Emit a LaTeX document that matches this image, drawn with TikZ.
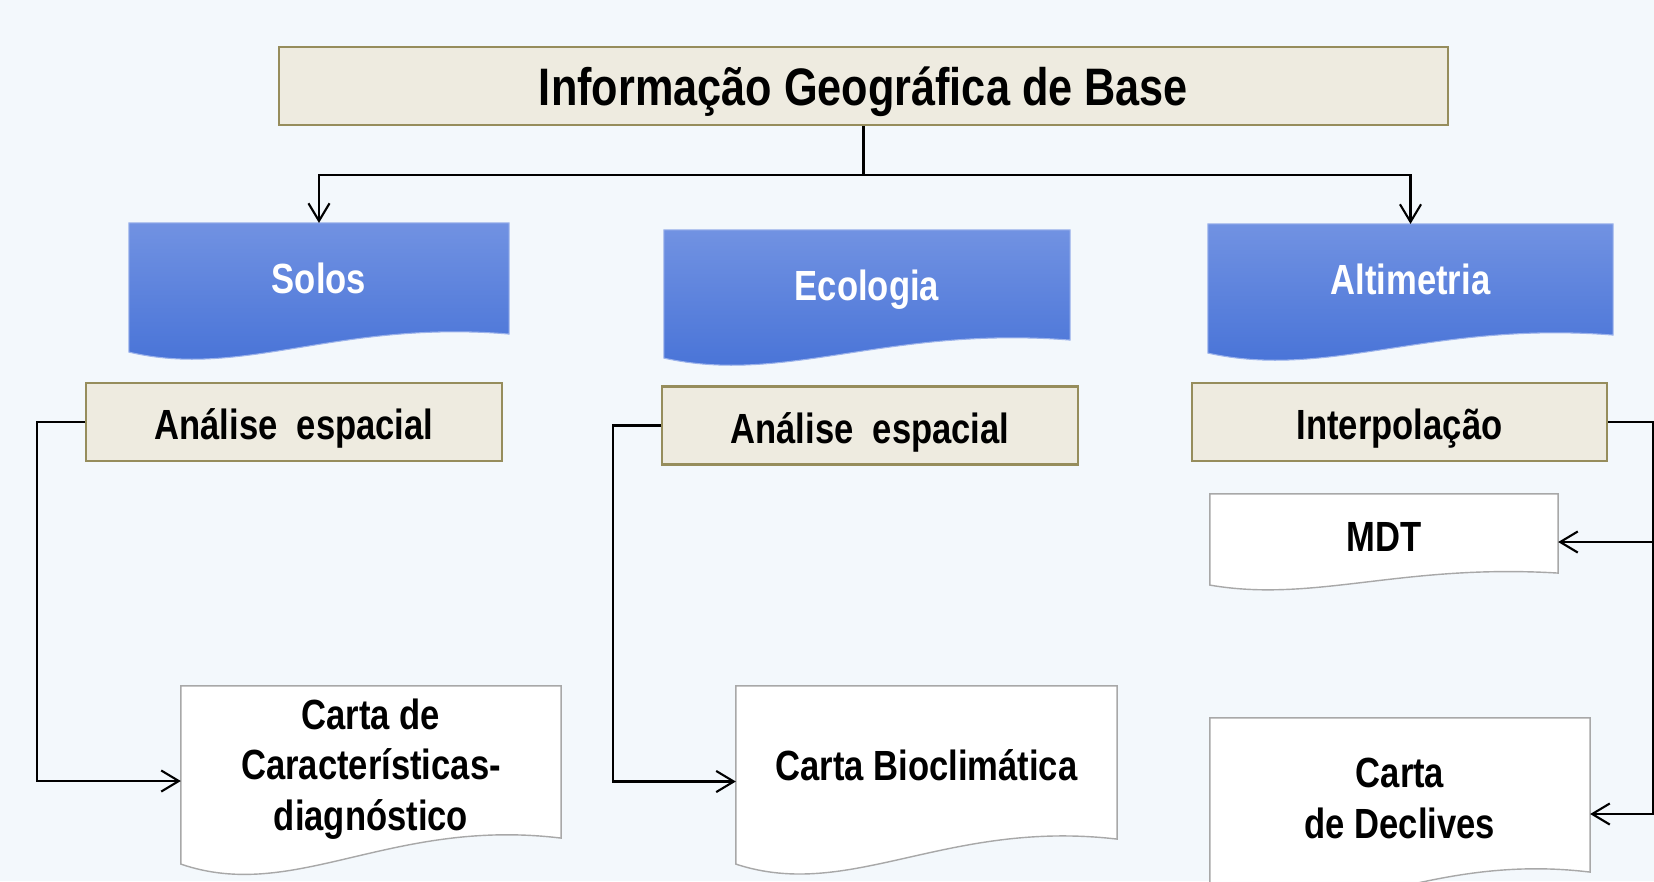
\documentclass[tikz,border=0pt]{standalone}
\usepackage{fontspec}
\setmainfont{Liberation Sans}[FakeStretch=0.82]
\usepackage{tikz}
\usetikzlibrary{arrows.meta,calc,backgrounds}
\definecolor{pagebg}{HTML}{F3F8FC}
\definecolor{beigefill}{HTML}{EEEBE0}
\definecolor{beigeedge}{HTML}{968D5C}
\definecolor{bluetop}{HTML}{7192E2}
\definecolor{bluebot}{HTML}{4470D6}
\definecolor{docedge}{HTML}{A8A8A8}
\tikzset{every picture/.style={line width=0.6pt}}

% document outline with a wavy bottom edge, hung on a node
\newcommand{\wavedoc}[3]{%
  \path[#3] (#1.north west) -- ($(#1.south west)+(0,#2)$)
    .. controls ($(#1.south west)!0.3!(#1.south east)+(0,2.5*#2)$)
    and ($(#1.south west)!0.55!(#1.south east)+(0,-0.8*#2)$) .. (#1.south east)
    -- (#1.north east) -- cycle;}

\tikzset{
  topbox/.style={draw=beigeedge, fill=beigefill, minimum width=11.69cm,
    minimum height=0.78cm, inner sep=0pt, text height=11.2pt, text depth=0pt,
    font=\fontsize{15}{18}\selectfont\bfseries},
  method/.style={draw=beigeedge, fill=beigefill, minimum width=4.15cm,
    minimum height=0.78cm, inner sep=0pt, text height=10.2pt, text depth=0pt,
    font=\fontsize{12}{14.4}\selectfont\bfseries},
  theme/.style={minimum width=#1, minimum height=1.09cm, inner sep=0pt,
    text height=8.8pt, text depth=0pt,
    text=white, font=\fontsize{12}{14.4}\selectfont\bfseries},
  product/.style={align=center, inner sep=0pt, text height=10pt, text depth=0pt,
    font=\fontsize{12}{14.4}\selectfont\bfseries},
  themeshape/.style={top color=bluetop, bottom color=bluebot, draw=bluetop!70!white, line width=0.3pt},
  docshape/.style={fill=white, draw=docedge},
  conn/.style={-{Straight Barb[length=5pt,width=6pt]}},
}

\begin{document}
\begin{tikzpicture}[x=0.01cm,y=-0.01cm]
\useasboundingbox (0,0) rectangle (1654,881);

\node[topbox] (title) at (863.5,86) {Informação Geográfica de Base};
%
\node[theme=3.78cm] (solos) at (319,278.5) {Solos};
\node[theme=4.04cm, minimum height=1.08cm] (eco) at (867,285) {Ecologia};
\node[theme=4.03cm] (alti) at (1410.5,279.5) {Altimetria};
%
\node[method] (ana1) at (294,422) {Análise~~espacial};
\node[method] (ana2) at (870,425.5) {Análise~~espacial};
\node[method] (interp) at (1399.5,422) {Interpolação};
%
\node[product, minimum width=3.46cm, minimum height=0.77cm] (mdt) at (1384,533.5) {MDT};
\node[product, minimum width=3.78cm, minimum height=1.5cm, text height=39pt] (carac) at (371,762)
  {Carta de\\Características-\\diagnóstico};
\node[product, minimum width=3.79cm, minimum height=1.51cm] (bioclim) at (926.5,762.5)
  {Carta Bioclimática};
\node[product, minimum width=3.78cm, minimum height=1.52cm, text height=24.8pt] (decl) at (1400,795)
  {Carta\\de Declives};

\begin{scope}[on background layer]
\fill[pagebg] (0,0) rectangle (1654,881);
\wavedoc{solos}{18}{themeshape}
\wavedoc{eco}{18}{themeshape}
\wavedoc{alti}{18}{themeshape}
\wavedoc{mdt}{12}{docshape}
\wavedoc{carac}{26}{docshape}
\wavedoc{bioclim}{25}{docshape}
\wavedoc{decl}{26}{docshape}
\end{scope}

% connectors
\coordinate (split) at ($(title.south)+(0,49)$);
\draw[conn] (title.south) -- (split) -| (solos.north);
\draw[conn] (split) -| (alti.north);
%
\coordinate (caracin) at ($(carac.west)+(0,19)$);
\draw[conn] (ana1.west) -- ++(-48,0) |- (caracin);
\coordinate (bioin) at ($(bioclim.west)+(0,19)$);
\draw[conn] (ana2.west) -- ++(-48,0) |- (bioin);
%
\coordinate (mdtin) at ($(mdt.east)+(0,8.5)$);
\coordinate (declin) at ($(decl.east)+(0,19)$);
\coordinate (rbus) at ($(interp.east)+(45,0)$);
\draw[conn] (interp.east) -- (rbus) |- (declin);
\draw[conn] (rbus |- mdtin) -- (mdtin);
\end{tikzpicture}
\end{document}
